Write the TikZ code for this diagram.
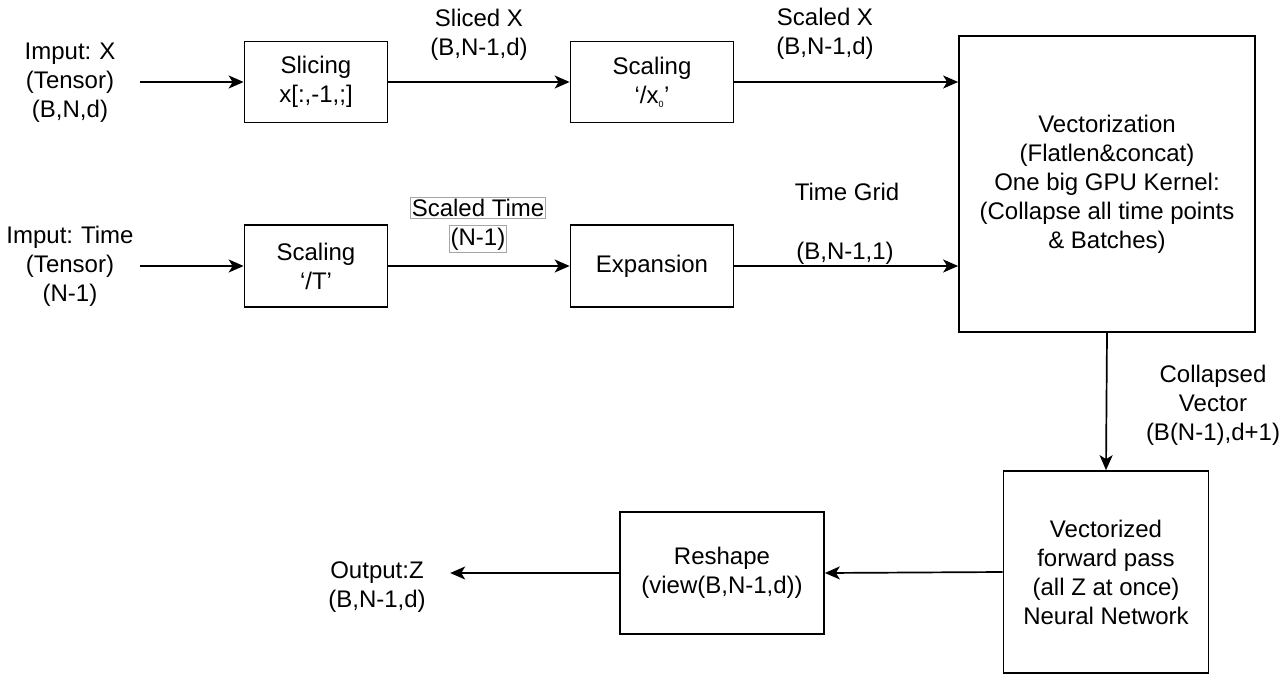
\documentclass[tikz,border=0pt]{standalone}
\usepackage{fontspec}
\setmainfont{Liberation Sans}
\frenchspacing
\usetikzlibrary{arrows.meta}
\tikzset{
    blk/.style={draw, line width=1.7pt, align=center, inner sep=0pt},
    flow/.style={line width=1.7pt, -{Stealth[length=15pt,width=13pt,inset=4pt]}},
    lbl/.style={align=center, inner sep=0pt},
    io/.style={align=center, text width=140pt, inner sep=0pt},
    tbox/.style={draw=black!35, line width=0.8pt, inner xsep=1.5pt, inner ysep=2pt, fill=white}
}
\begin{document}
\begin{tikzpicture}[x=1pt,y=-1pt,font=\fontsize{24}{29}\selectfont]
        \useasboundingbox (0,0) rectangle (1282,677);
        %% Inputs
        \node[io] (inX) at (70,83) {Imput: X\\(Tensor)\\(B,N,d)};
        \node[io] (inT) at (70,266) {Imput: Time\\(Tensor)\\(N-1)};
        %% Boxes
        \node[blk, minimum width=143pt, minimum height=81pt] (slice) at (316,82) {Slicing\\x[:,-1,;]};
        \node[blk, minimum width=163pt, minimum height=81pt] (scx) at (652,82) {Scaling\\‘/x\textsubscript{\fontsize{9}{9}\selectfont 0}’};
        \node[blk, minimum width=143pt, minimum height=82pt] (sct) at (316,266) {Scaling\\‘/T’};
        \node[blk, minimum width=163pt, minimum height=82pt] (expd) at (652,266) {Expansion};
        \node[blk, minimum width=296pt, minimum height=296pt] (vec) at (1107,184)
            {Vectorization\\(Flatlen\&concat)\\One big GPU Kernel:\\(Collapse all time points\\\& Batches)};
        \node[blk, minimum width=205pt, minimum height=202pt] (nn) at (1106,572)
            {Vectorized\\forward pass\\(all Z at once)\\Neural Network};
        \node[blk, minimum width=204pt, minimum height=122pt] (resh) at (722,573) {Reshape\\(view(B,N-1,d))};
        %% Output
        \node[align=center, text width=100pt, inner xsep=23pt] (outZ) at (377,587) {Output:Z\\(B,N-1,d)};
        %% Arrows
        \draw[flow] (inX.east |- slice) -- (slice.west);
        \draw[flow] (inT.east |- sct) -- (sct.west);
        \draw[flow] (slice.east) -- (scx.west);
        \draw[flow] (sct.east) -- (expd.west);
        \draw[flow] (scx.east) -- (scx.east -| vec.west);
        \draw[flow] (expd.east) -- (expd.east -| vec.west);
        \draw[flow] (vec.south) -- (nn.north);
        \draw[flow] (nn.west) -- (resh.east);
        \draw[flow] (resh.west) -- (outZ.east |- resh);
        %% Labels
        \node[lbl] (lslice) at (479,35) {Sliced X\\(B,N-1,d)};
        \node[lbl] (lscx) at (825,34) {Scaled X\\(B,N-1,d)};
        \node[tbox] (lsct1) at (478,208) {Scaled Time};
        \node[tbox] (lsct2) at (478,239) {(N-1)};
        \node[lbl] (lgrid) at (847,192) {Time Grid};
        \node[lbl] (lgrid2) at (845,253) {(B,N-1,1)};
        \node[lbl] (lcol) at (1213,405) {Collapsed\\Vector\\(B(N-1),d+1)};
\end{tikzpicture}
\end{document}
